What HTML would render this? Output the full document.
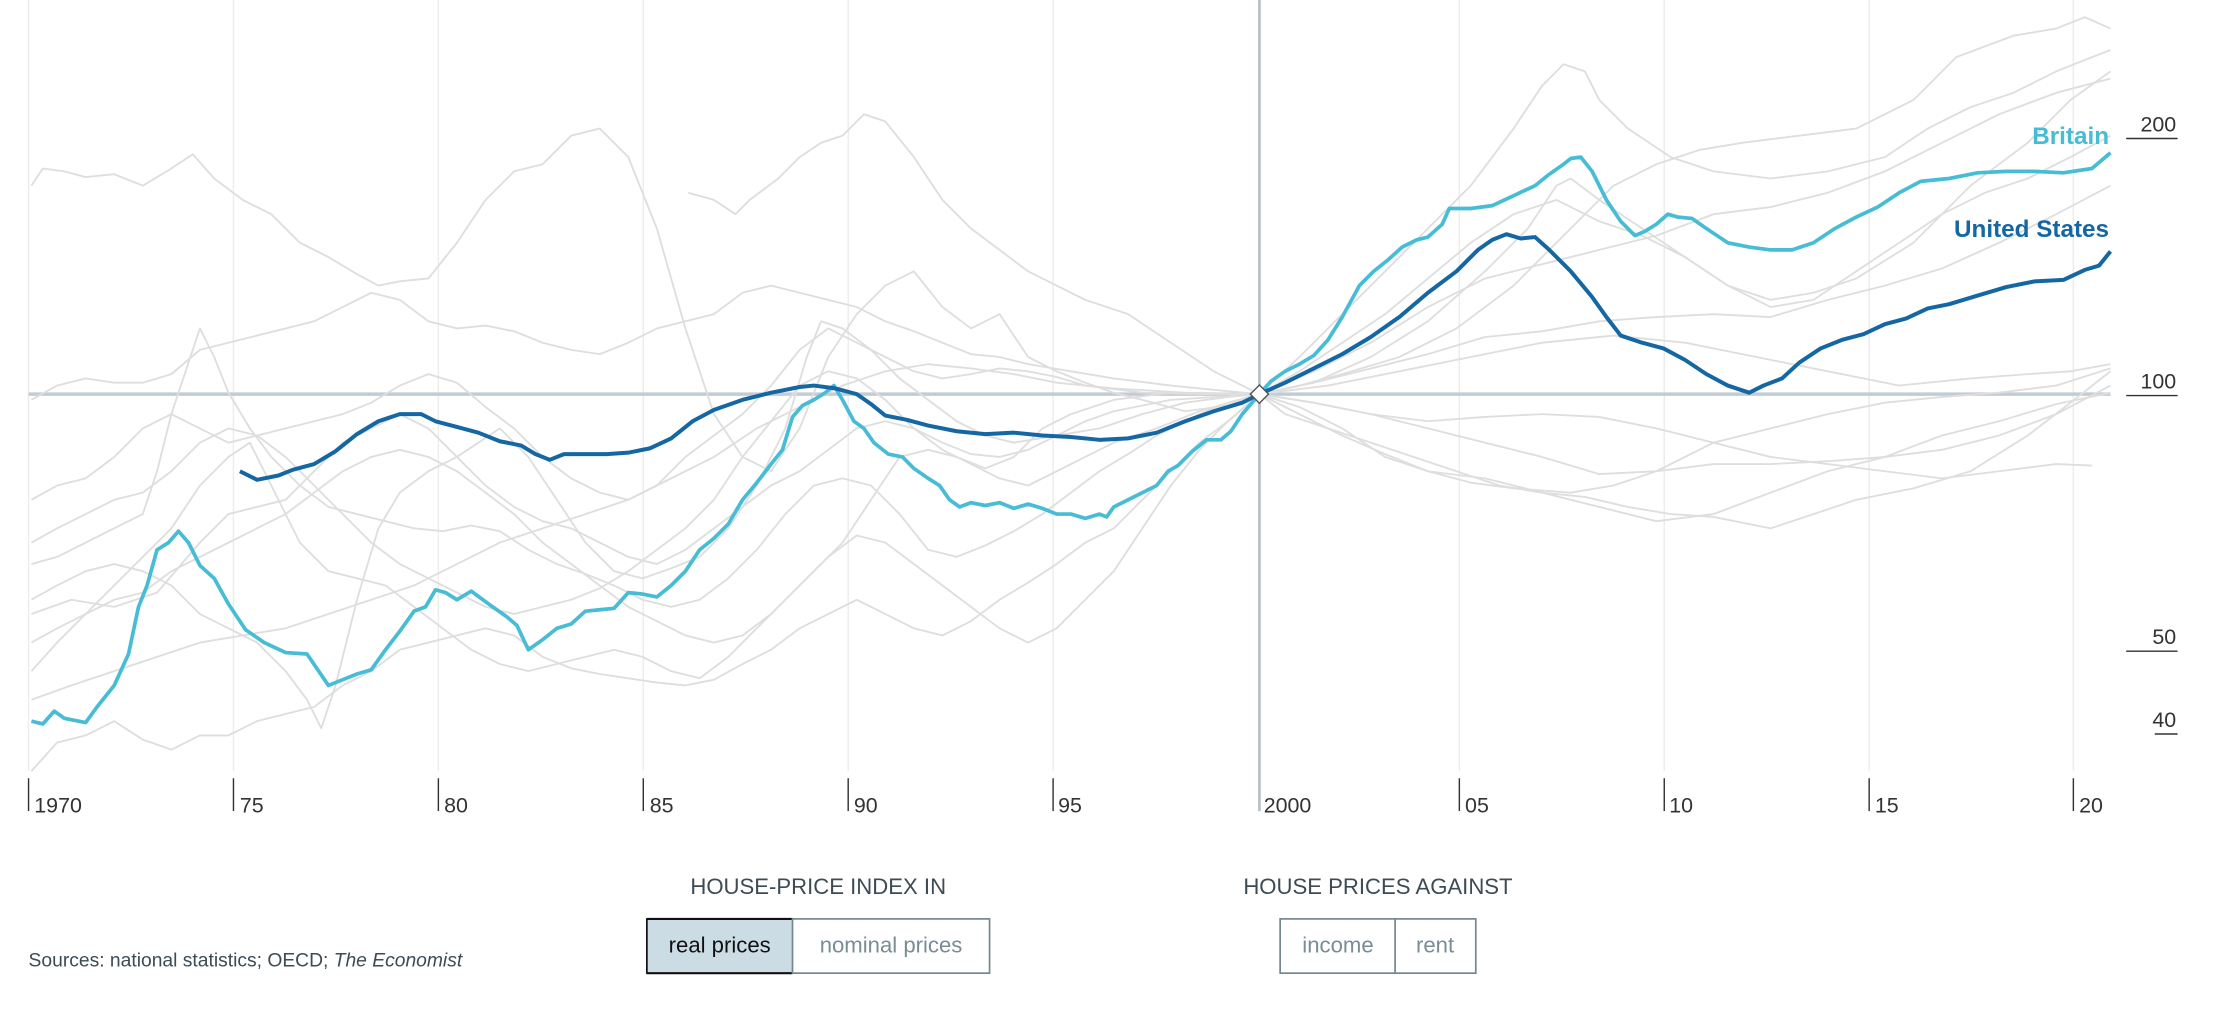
<!DOCTYPE html>
<html><head><meta charset="utf-8"><style>
html,body{margin:0;padding:0;background:#fff;}
svg{display:block;}
text{font-family:"Liberation Sans",sans-serif;}
</style></head><body>
<svg width="2239" height="1031" viewBox="0 0 1568 722" xmlns="http://www.w3.org/2000/svg">
<g stroke="#ececec" stroke-width="1">
<line x1="20" y1="0" x2="20" y2="540"/><line x1="163.5" y1="0" x2="163.5" y2="540"/><line x1="307" y1="0" x2="307" y2="540"/><line x1="450.5" y1="0" x2="450.5" y2="540"/><line x1="594" y1="0" x2="594" y2="540"/><line x1="737.5" y1="0" x2="737.5" y2="540"/><line x1="1022" y1="0" x2="1022" y2="540"/><line x1="1165.5" y1="0" x2="1165.5" y2="540"/><line x1="1309" y1="0" x2="1309" y2="540"/><line x1="1452" y1="0" x2="1452" y2="540"/>
</g>
<line x1="882" y1="0" x2="882" y2="568" stroke="#b9c3cb" stroke-width="2"/>
<line x1="20" y1="276" x2="1478" y2="276" stroke="#c2ccd4" stroke-width="2.5"/>
<g fill="none" stroke="#dedede" stroke-width="1.3" stroke-linejoin="round">
<polyline points="22,130 30,118 45,120 60,124 80,122 100,130 120,118 135,108 150,125 170,140 190,150 210,170 230,180 250,192 265,200 280,197 300,195 320,170 340,140 360,120 380,115 400,95 420,90 440,110 460,160 480,230 500,290 520,320 540,330 560,300 580,250 600,220 620,200 640,190 660,215 680,230 700,220 720,250 740,260 760,268 780,275 800,280 830,288 860,284 882,276 900,290 930,300 960,310 990,320 1020,330 1050,340 1080,345 1110,348 1140,355 1170,360 1200,362 1240,370 1270,360 1300,350 1340,342 1380,330 1420,305 1450,282 1478,260"/>
<polyline points="482,135 500,140 515,150 525,140 545,125 560,110 575,100 590,95 605,80 620,85 640,110 660,140 680,160 700,175 720,190 740,200 760,210 790,220 820,240 850,260 882,276 910,250 940,220 970,190 1000,160 1030,130 1060,90 1080,60 1095,45 1110,50 1120,70 1140,90 1170,110 1200,120 1240,125 1280,120 1320,110 1350,90 1380,75 1410,65 1440,50 1460,42 1478,35"/>
<polyline points="22,540 40,520 60,515 80,505 100,518 120,525 140,515 160,515 180,505 200,500 220,495 240,480 260,470 280,455 300,450 320,445 340,440 360,445 380,460 400,468 420,472 440,475 460,478 480,480 500,476 520,465 540,455 560,440 580,430 600,420 620,430 640,440 660,445 680,435 700,420 720,408 740,395 760,380 780,370 800,350 820,330 840,310 860,295 882,276 920,282 960,290 1000,300 1040,310 1080,320 1120,332 1160,330 1200,325 1240,325 1280,323 1320,320 1360,315 1400,305 1440,290 1478,270"/>
<polyline points="22,395 40,390 60,380 80,370 100,360 110,330 120,290 130,260 140,230 150,250 160,275 175,300 190,320 210,340 230,355 250,360 270,365 290,370 310,372 330,368 350,372 370,385 390,395 410,402 430,410 450,420 470,425 490,420 510,405 530,385 550,360 570,340 590,335 610,340 630,360 650,385 670,390 690,382 710,372 730,360 750,345 770,330 790,318 810,305 840,290 860,282 882,276 910,290 940,305 970,318 1000,330 1030,338 1060,342 1100,345 1130,340 1160,330 1200,310 1240,300 1280,290 1320,282 1360,278 1400,275 1440,270 1478,258"/>
<polyline points="22,280 40,270 60,265 80,268 100,268 120,262 140,245 160,240 180,235 200,230 220,225 240,215 260,205 280,210 300,225 320,230 340,228 360,232 380,240 400,245 420,248 440,240 460,230 480,225 500,220 520,205 540,200 560,205 580,210 600,215 620,225 640,232 660,240 680,248 700,250 720,255 750,260 780,265 820,270 850,273 882,276 920,268 960,258 1000,248 1040,236 1080,232 1120,225 1160,222 1200,220 1240,222 1280,210 1320,200 1360,188 1400,170 1440,150 1478,130"/>
<polyline points="22,350 40,340 60,335 80,320 100,300 120,290 140,300 160,310 180,305 200,300 220,295 240,290 260,282 280,270 300,262 320,268 340,285 360,300 380,320 400,335 420,345 440,350 460,340 480,320 500,305 520,290 540,270 560,245 580,230 600,240 620,250 640,260 660,265 680,262 700,258 720,260 740,264 760,270 800,275 840,276 882,276 920,268 960,250 1000,225 1040,190 1070,160 1090,130 1100,125 1120,140 1150,160 1180,180 1210,200 1240,210 1270,205 1300,195 1340,170 1380,130 1420,100 1450,70 1478,50"/>
<polyline points="22,420 40,410 60,400 80,395 100,400 120,410 140,430 160,440 180,450 200,470 215,490 225,510 235,480 250,420 265,370 280,345 300,330 320,320 335,310 350,300 370,320 390,350 410,380 430,400 450,405 470,398 490,390 510,370 530,340 550,300 565,250 575,225 590,230 610,245 630,265 650,280 670,295 690,305 710,310 740,305 770,300 800,290 830,282 860,278 882,276 910,285 940,300 970,320 1000,330 1040,335 1080,345 1120,355 1160,365 1200,360 1240,345 1280,330 1320,320 1360,305 1400,295 1440,283 1478,275"/>
<polyline points="22,450 40,440 60,430 80,410 100,390 120,370 140,340 160,320 175,310 190,340 210,380 230,400 250,405 270,410 290,425 310,440 330,455 350,465 370,470 390,465 410,460 430,455 450,460 470,470 490,475 510,460 530,440 550,420 570,400 590,380 610,350 630,320 650,315 670,320 690,328 710,320 730,300 750,290 780,280 820,275 860,276 882,276 910,260 940,240 970,220 1000,195 1030,170 1060,150 1090,140 1120,155 1150,165 1180,180 1210,200 1240,215 1270,210 1300,190 1330,170 1360,150 1390,135 1420,125 1450,110 1478,95"/>
<polyline points="22,380 40,370 60,360 80,350 100,345 120,330 140,310 160,300 180,305 200,320 220,340 240,360 260,380 280,395 300,405 320,415 340,425 360,430 380,425 400,420 420,412 440,400 460,385 480,370 500,350 520,320 540,295 560,270 580,260 600,265 620,280 640,300 660,315 680,325 700,335 720,340 740,330 760,320 780,310 810,300 840,288 882,276 920,282 960,290 1000,295 1040,292 1080,290 1120,292 1160,300 1200,310 1240,320 1280,325 1320,330 1360,335 1400,330 1440,325 1465,326"/>
<polyline points="22,470 40,450 60,430 80,420 100,415 120,400 140,390 160,380 180,370 200,360 220,345 240,330 260,320 280,315 300,320 320,330 340,345 360,360 380,380 400,395 420,410 440,425 460,435 480,445 500,450 520,445 540,430 560,410 580,390 600,375 620,380 640,395 660,410 680,425 700,440 720,450 740,440 760,420 780,400 800,370 820,340 840,315 860,295 882,276 910,270 940,262 980,250 1020,230 1060,200 1100,160 1130,130 1160,115 1190,105 1220,100 1260,95 1300,90 1340,70 1370,40 1410,25 1440,20 1460,12 1478,20"/>
<polyline points="22,490 50,480 80,470 110,460 140,450 170,445 200,440 230,430 260,420 290,410 320,395 350,380 380,370 410,360 440,350 470,335 500,320 530,300 560,285 590,270 620,260 650,255 680,258 710,262 740,268 780,272 830,275 882,276 930,270 980,260 1030,250 1080,240 1130,235 1180,240 1230,250 1280,260 1330,270 1380,265 1420,262 1450,260 1478,255"/>
<polyline points="22,430 50,420 80,425 110,415 140,380 160,360 180,355 200,350 220,330 240,310 260,300 280,290 300,300 320,320 340,340 360,355 380,365 400,370 420,380 440,390 460,395 480,385 500,370 520,355 540,340 560,330 580,315 600,300 620,295 640,300 660,310 680,318 700,320 720,315 740,305 760,295 780,288 820,280 882,276 920,260 960,240 1000,215 1040,195 1080,185 1120,175 1160,165 1200,150 1240,145 1280,135 1320,120 1360,100 1400,80 1440,65 1478,55"/>
</g>
<polyline fill="none" stroke="#47bcd5" stroke-width="2.6" stroke-linejoin="round" points="22,505 30,507 38,498 45,503 60,506 68,495 80,480 90,458 97,425 103,410 110,385 118,380 125,372 132,380 140,396 150,405 160,423 172,441 185,450 200,457 215,458 230,480 240,476 250,472 260,469 270,455 280,442 290,428 298,425 305,413 312,415 320,420 330,414 345,425 355,432 362,438 370,455 380,448 390,440 400,437 410,428 420,427 430,426 440,415 450,416 460,418 470,410 480,400 490,385 500,377 510,367 520,350 530,338 540,325 548,315 555,292 562,284 570,280 578,275 584,270 590,280 598,295 605,300 612,310 622,318 632,320 640,328 650,335 658,340 665,350 672,355 680,352 690,354 700,352 710,356 720,353 730,356 740,360 750,360 760,363 770,360 775,362 780,355 790,350 800,345 810,340 818,330 825,326 835,316 845,308 855,308 862,302 870,290 876,283 882,276 890,267 900,260 910,255 920,249 930,238 940,222 952,200 962,190 972,182 982,173 992,168 1000,166 1010,157 1015,146 1030,146 1045,144 1060,137 1075,130 1085,122 1095,115 1100,111 1107,110 1115,120 1125,140 1135,155 1145,165 1152,162 1160,157 1168,150 1175,152 1185,153 1195,160 1210,170 1225,173 1240,175 1255,175 1270,170 1285,160 1300,152 1315,145 1330,135 1345,127 1365,125 1385,121 1405,120 1425,120 1445,121 1465,118 1478,107"/>
<polyline fill="none" stroke="#1467a3" stroke-width="2.8" stroke-linejoin="round" points="168,330 180,336 195,333 205,329 220,325 235,316 250,304 265,295 280,290 295,290 305,295 320,299 335,303 350,309 365,312 375,318 385,322 395,318 410,318 425,318 440,317 455,314 470,307 485,295 500,287 520,280 540,275 560,271 570,270 585,272 600,276 610,283 620,291 635,294 650,298 670,302 690,304 710,303 730,305 750,306 770,308 790,307 810,303 830,295 850,288 870,282 882,276 900,268 920,258 940,248 960,236 980,222 1000,205 1020,190 1035,175 1045,168 1055,164 1065,167 1075,166 1085,175 1100,190 1115,208 1125,222 1135,235 1150,240 1165,244 1180,252 1195,262 1210,270 1225,275 1235,270 1248,265 1260,254 1275,244 1290,238 1305,234 1320,227 1335,223 1350,216 1365,213 1385,207 1405,201 1425,197 1445,196 1460,189 1470,186 1478,176"/>
<rect x="877.5" y="271.5" width="9" height="9" fill="#fff" stroke="#555" stroke-width="1" transform="rotate(45 882 276)"/>
<text x="1477" y="101" text-anchor="end" font-size="17" font-weight="bold" fill="#47bcd5">Britain</text>
<text x="1477" y="166" text-anchor="end" font-size="17" font-weight="bold" fill="#1467a3">United States</text>
<g font-size="15" fill="#333" text-anchor="end">
<text x="1524" y="92">200</text><line x1="1489" y1="97" x2="1525" y2="97" stroke="#333" stroke-width="1"/>
<text x="1524" y="272">100</text><line x1="1489" y1="277" x2="1525" y2="277" stroke="#333" stroke-width="1"/>
<text x="1524" y="451">50</text><line x1="1489" y1="456" x2="1525" y2="456" stroke="#333" stroke-width="1"/>
<text x="1524" y="509">40</text><line x1="1509" y1="514" x2="1525" y2="514" stroke="#333" stroke-width="1"/>
</g>
<g stroke="#333" stroke-width="1">
<line x1="20" y1="545" x2="20" y2="568"/><line x1="163.5" y1="545" x2="163.5" y2="568"/><line x1="307" y1="545" x2="307" y2="568"/><line x1="450.5" y1="545" x2="450.5" y2="568"/><line x1="594" y1="545" x2="594" y2="568"/><line x1="737.5" y1="545" x2="737.5" y2="568"/><line x1="1022" y1="545" x2="1022" y2="568"/><line x1="1165.5" y1="545" x2="1165.5" y2="568"/><line x1="1309" y1="545" x2="1309" y2="568"/><line x1="1452" y1="545" x2="1452" y2="568"/>
</g>
<g font-size="15" fill="#333">
<text x="24" y="569">1970</text><text x="168" y="569">75</text><text x="311" y="569">80</text><text x="455" y="569">85</text><text x="598" y="569">90</text><text x="741" y="569">95</text><text x="885" y="569">2000</text><text x="1026" y="569">05</text><text x="1169" y="569">10</text><text x="1313" y="569">15</text><text x="1456" y="569">20</text>
</g>
<text x="573" y="626" text-anchor="middle" font-size="15.5" fill="#3d4b55">HOUSE-PRICE INDEX IN</text>
<text x="965" y="626" text-anchor="middle" font-size="15.5" fill="#3d4b55">HOUSE PRICES AGAINST</text>
<rect x="453" y="643" width="102" height="39" fill="#ccdce5"/>
<line x1="453" y1="643.5" x2="555" y2="643.5" stroke="#111" stroke-width="1.5"/>
<line x1="453" y1="681.5" x2="555" y2="681.5" stroke="#111" stroke-width="1.5"/>
<line x1="453" y1="643" x2="453" y2="682" stroke="#111" stroke-width="1.2"/>
<rect x="555" y="643.5" width="138" height="38" fill="none" stroke="#75888f" stroke-width="1.2"/>
<text x="504" y="667" text-anchor="middle" font-size="15.5" fill="#111">real prices</text>
<text x="624" y="667" text-anchor="middle" font-size="15.5" fill="#7a8c95">nominal prices</text>
<rect x="896.5" y="643.5" width="137" height="38" fill="none" stroke="#75888f" stroke-width="1.2"/>
<line x1="977" y1="643" x2="977" y2="682" stroke="#75888f" stroke-width="1.2"/>
<text x="937" y="667" text-anchor="middle" font-size="15.5" fill="#7a8c95">income</text>
<text x="1005" y="667" text-anchor="middle" font-size="15.5" fill="#7a8c95">rent</text>
<text x="20" y="677" font-size="13.5" fill="#3d4b55">Sources: national statistics; OECD; <tspan font-style="italic">The Economist</tspan></text>
</svg>
</body></html>
